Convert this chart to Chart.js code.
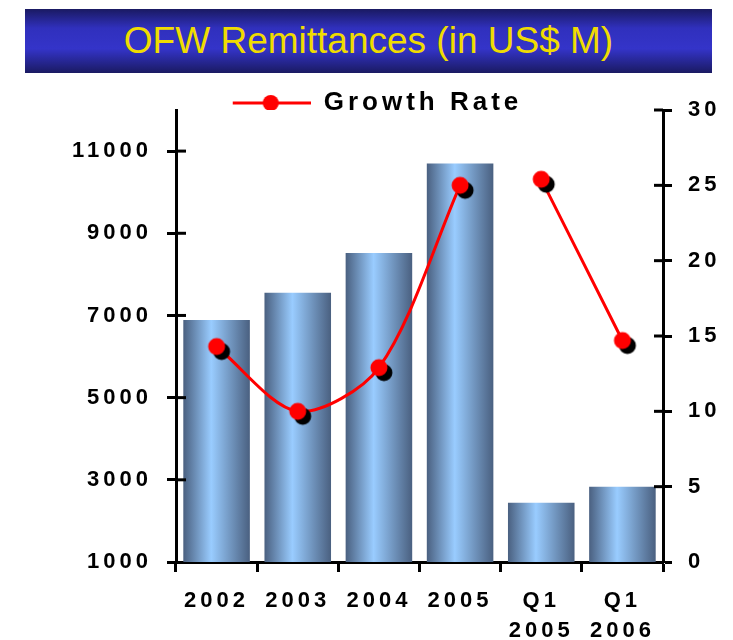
<!DOCTYPE html>
<html>
<head>
<meta charset="utf-8">
<title>OFW Remittances</title>
<script src="https://cdn.jsdelivr.net/npm/chart.js@4.4.1/dist/chart.umd.min.js"></script>
<style>
  html, body { margin: 0; padding: 0; background: #fff; }
  #wrap { position: relative; width: 733px; height: 640px; }
  #chart-box { position: absolute; left: 0; top: 0; width: 733px; height: 640px; }
  #banner {
    position: absolute; left: 25px; top: 9px; width: 687px; height: 64px;
    background: linear-gradient(to bottom, #1a1a62 0%, #3030bd 30%, #3434c9 62%, #1a1a62 100%);
    color: #f0dc00;
    font-family: 'Liberation Sans', Arial, sans-serif;
    font-size: 37px; line-height: 64px; text-align: center;
  }
</style>
</head>
<body>
<div id="wrap">
  <div id="chart-box"><canvas id="chart-remit"></canvas></div>
  <div id="banner">OFW Remittances (in US$ M)</div>
</div>
<script>
// data
var categories = ['2002', '2003', '2004', '2005', ['Q1', '2005'], ['Q1', '2006']];
var remittances = [6890, 7550, 8520, 10700, 2440, 2830];
var growthYearly = [14.3, 10.0, 12.9, 25.0, null, null];
var growthQuarter = [null, null, null, null, 25.4, 14.7];
var leftTicks = [1000, 3000, 5000, 7000, 9000, 11000];
var rightTicks = [0, 5, 10, 15, 20, 25, 30];

var FONT = "'Liberation Sans', Arial, sans-serif";
var BAR_PCT = 0.82;

// red marker with black shadow
var dot = document.createElement('canvas');
dot.width = 40; dot.height = 40;
var dctx = dot.getContext('2d');
dctx.fillStyle = '#000';
dctx.beginPath(); dctx.arc(25, 25, 8.5, 0, Math.PI * 2); dctx.fill();
dctx.fillStyle = '#ff0000';
dctx.beginPath(); dctx.arc(20, 20, 8.5, 0, Math.PI * 2); dctx.fill();

// legend symbol: line with dot
var legendImg = document.createElement('canvas');
legendImg.width = 100; legendImg.height = 20;
var lctx = legendImg.getContext('2d');
lctx.strokeStyle = '#ff0000'; lctx.lineWidth = 3;
lctx.beginPath(); lctx.moveTo(22, 10); lctx.lineTo(100, 10); lctx.stroke();
lctx.fillStyle = '#ff0000';
lctx.beginPath(); lctx.arc(60, 10, 8, 0, Math.PI * 2); lctx.fill();

function barGradient(context) {
  var chart = context.chart;
  var xs = chart.scales.x;
  if (!xs || context.type !== 'data') return '#8fb8e8';
  var cx = xs.getPixelForValue(context.dataIndex);
  var w = xs.width / categories.length * BAR_PCT;
  var g = chart.ctx.createLinearGradient(cx - w / 2, 0, cx + w / 2, 0);
  g.addColorStop(0, '#4a6080');
  g.addColorStop(0.42, '#99ccff');
  g.addColorStop(1, '#4a6080');
  return g;
}

// letter spacing for all canvas text
var spacing = {
  id: 'spacing',
  beforeUpdate: function (chart) { chart.ctx.letterSpacing = '4px'; },
  beforeDraw: function (chart) { chart.ctx.letterSpacing = '4px'; }
};

// tick marks crossing into the plot on both value axes
var innerTicks = {
  id: 'innerTicks',
  afterDraw: function (chart) {
    var c = chart.ctx, yl = chart.scales.y, yr = chart.scales.y1;
    c.save();
    c.strokeStyle = '#000';
    c.lineWidth = 3;
    leftTicks.forEach(function (v) {
      if (v === yl.min) return;
      var y = yl.getPixelForValue(v);
      c.beginPath(); c.moveTo(yl.right, y); c.lineTo(yl.right + 10, y); c.stroke();
    });
    rightTicks.forEach(function (v) {
      if (v === yr.min) return;
      var y = yr.getPixelForValue(v);
      c.beginPath(); c.moveTo(yr.left - 9, y); c.lineTo(yr.left, y); c.stroke();
    });
    c.restore();
  }
};

var tickFont = { family: FONT, size: 22, weight: 'bold', lineHeight: 1.36 };

new Chart(document.getElementById('chart-remit'), {
  type: 'bar',
  data: {
    labels: categories,
    datasets: [{
      label: 'Remittances',
      data: remittances,
      backgroundColor: barGradient,
      borderWidth: 0,
      barPercentage: BAR_PCT,
      categoryPercentage: 1.0,
      yAxisID: 'y',
      order: 2
    }, {
      type: 'line',
      label: 'Growth Rate',
      data: growthYearly,
      borderColor: '#ff0000',
      borderWidth: 3,
      pointStyle: dot,
      tension: 0.3,
      spanGaps: false,
      yAxisID: 'y1',
      order: 1
    }, {
      type: 'line',
      label: 'Growth Rate Q1',
      data: growthQuarter,
      borderColor: '#ff0000',
      borderWidth: 3,
      pointStyle: dot,
      tension: 0.3,
      spanGaps: false,
      yAxisID: 'y1',
      order: 1
    }]
  },
  options: {
    responsive: true,
    maintainAspectRatio: false,
    animation: false,
    layout: { padding: { top: 80, left: 0, right: 0, bottom: 0 } },
    plugins: {
      tooltip: { enabled: false },
      legend: {
        position: 'top',
        maxHeight: 30,
        labels: {
          usePointStyle: true,
          pointStyleWidth: 100,
          padding: 10,
          color: '#000',
          font: { family: FONT, size: 26, weight: 'bold' },
          generateLabels: function () {
            return [{
              text: 'Growth Rate',
              pointStyle: legendImg,
              fillStyle: '#ff0000',
              strokeStyle: '#ff0000',
              lineWidth: 0,
              hidden: false,
              datasetIndex: 1
            }];
          }
        }
      }
    },
    scales: {
      x: {
        offset: true,
        grid: {
          offset: true,
          drawOnChartArea: false,
          drawTicks: true,
          tickLength: 10,
          tickWidth: 3,
          tickColor: '#000'
        },
        border: { display: true, width: 3, color: '#000' },
        ticks: {
          autoSkip: false,
          maxRotation: 0,
          color: '#000',
          padding: 14,
          font: tickFont
        },
        afterFit: function (s) { s.height = 78; }
      },
      y: {
        position: 'left',
        min: 1000,
        max: 12000,
        afterBuildTicks: function (s) {
          s.ticks = leftTicks.map(function (v) { return { value: v }; });
        },
        grid: {
          drawOnChartArea: false,
          tickLength: 9,
          tickWidth: 3,
          tickColor: '#000'
        },
        border: { display: true, width: 3, color: '#000' },
        ticks: {
          color: '#000',
          padding: 15,
          font: tickFont,
          callback: function (v) { return String(v); }
        },
        afterFit: function (s) { s.width = 176; }
      },
      y1: {
        position: 'right',
        min: 0,
        max: 30,
        afterBuildTicks: function (s) {
          s.ticks = rightTicks.map(function (v) { return { value: v }; });
        },
        grid: {
          drawOnChartArea: false,
          tickLength: 9,
          tickWidth: 3,
          tickColor: '#000'
        },
        border: { display: true, width: 3, color: '#000' },
        ticks: {
          color: '#000',
          padding: 16,
          font: tickFont,
          callback: function (v) { return String(v); }
        },
        afterFit: function (s) { s.width = 70; }
      }
    }
  },
  plugins: [spacing, innerTicks]
});
</script>
</body>
</html>
